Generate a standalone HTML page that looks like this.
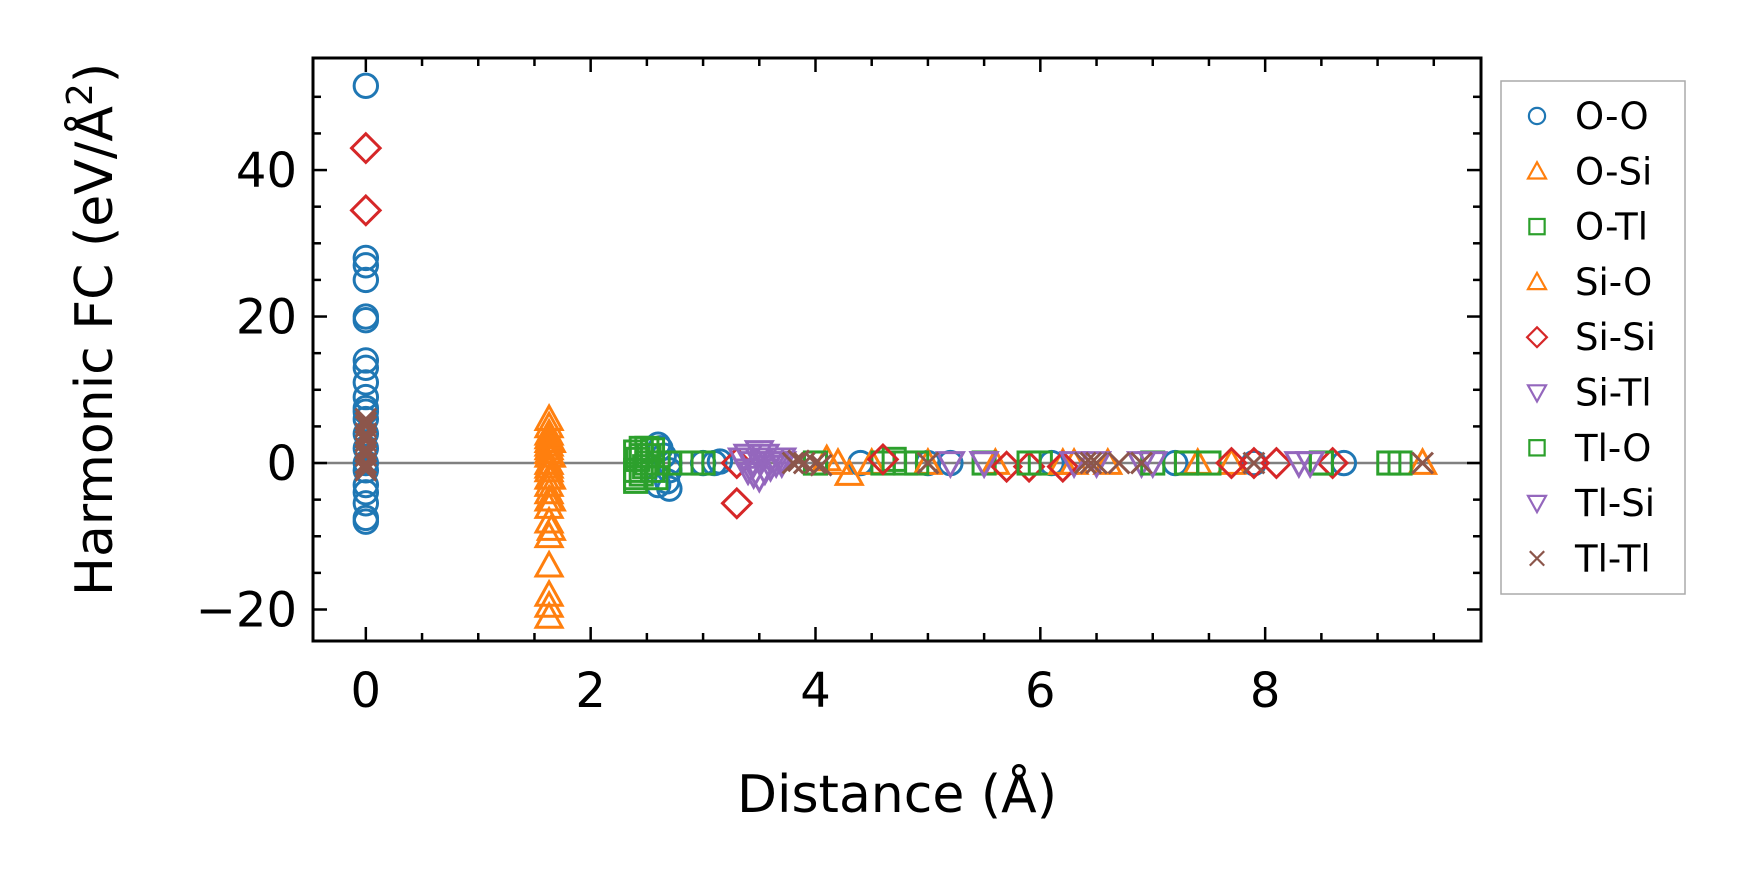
<!DOCTYPE html>
<html><head><meta charset="utf-8"><style>
body{margin:0;background:#fff;}
svg{display:block;font-family:"DejaVu Sans","Liberation Sans",sans-serif;}
</style></head><body>
<svg id="chart" width="1737" height="883" viewBox="0 0 1737 883" xmlns="http://www.w3.org/2000/svg">
<rect width="1737" height="883" fill="#fff"/>
<g id="marks"></g>
<g id="axes"></g>
<g id="legend"></g>
</svg>
<script>
const xTicks=[0,2,4,6,8];
const yTicks=[-20,0,20,40];
const seriesNames=["O-O","O-Si","O-Tl","Si-O","Si-Si","Si-Tl","Tl-O","Tl-Si","Tl-Tl"];
const seriesColors=["#1f77b4","#ff7f0e","#2ca02c","#ff7f0e","#d62728","#9467bd","#2ca02c","#9467bd","#8c564b"];
const seriesMarkers=["o","^","s","^","D","v","s","v","x"];
const ooX=[0,0,0,0,0,0,0,0,0,0,0,0,0,0,0,0,0,0,0,0,0,0,2.6,2.65,2.7,2.7,2.6,2.7,2.62,2.68,3.0,3.1,3.15,5.2,7.2,8.7,7.9,6.1,4.4,5.0];
const ooY=[51.5,28,27,25,20,19.5,14,13,11,9,7.5,7,6,4,2,0,-1,-3,-5.5,-7.5,-8,-4,2.5,1,0,-1,-3,-3.5,2,-2.5,0,0,0.2,0,0,0,0,0,0,0];
const osiX=[1.63,1.63,1.63,1.63,1.63,1.63,1.63,1.63,1.63,1.63,1.63,1.63,1.63,1.63,1.63,1.63,1.63,1.63,1.63,1.63,1.63,1.63,1.63,4.1,4.3,4.5,5.6,6.3,6.6,7.4,7.7,9.4];
const osiY=[6,5,4,3,2.5,2,1,0,-1,-2,-3,-4,-5,-6,-8,-10,-14,-18,-19.5,-21,3.5,1.5,-0.5,0.5,-1.5,0,0,0,0,0,0,0];
const otlX=[2.4,2.45,2.5,2.55,2.4,2.5,2.6,2.45,2.55,2.42,2.48,2.52,2.58,2.4,2.45,2.9,3.0,4.0,4.6,4.7,4.8,5.5,6.0,7.3,7.5,8.5,9.2];
const otlY=[1.5,1,0,-1,-2,2,0,-1.5,1.8,0.5,-0.5,1,-2,-2.5,2,0,0,0,0,0.5,0,0,0,0,0,0,0];
const sioX=[1.65,1.65,1.65,1.65,1.65,4.2,5.0,6.2];
const sioY=[3,1,-2,-5,-9,0,0,0];
const sisiX=[0,0,3.3,3.3,4.6,5.7,5.9,6.2,7.7,7.9,8.1,8.6];
const sisiY=[43,34.5,-5.5,0,0.5,-0.5,-0.5,-0.5,0,0,0,0];
const sitlX=[3.4,3.45,3.5,3.55,3.6,3.65,3.5,3.4,3.45,3.55,3.6,3.7,3.35,5.5,6.3,6.9,8.3];
const sitlY=[1,0,1.5,-1,0.5,0,-2,-1,-1.5,1,-0.5,0.5,0.5,0,0,0,0];
const tloX=[2.4,2.7,4.0,4.9,5.9,7.0,7.3,8.5,9.1];
const tloY=[-1,0,0,0,0,0,0,0,0];
const tlsiX=[3.5,3.6,3.7,5.2,5.5,6.5,7.0,8.4];
const tlsiY=[0.5,-0.5,0,0,0,0,0,0];
const tltlX=[0,0,0,0,0,0,0,0,0,0,0,0,3.8,3.85,3.9,4.0,4.05,5.0,6.4,6.45,6.5,6.7,6.9,7.9,9.4];
const tltlY=[6,5,4,3,2,1,0,-1,5.5,3.5,1.5,-0.5,0,0.3,0,0,-0.3,0,0,0,0,0,0,0,0];
const seriesX=[ooX,osiX,otlX,sioX,sisiX,sitlX,tloX,tlsiX,tltlX];
const seriesY=[ooY,osiY,otlY,sioY,sisiY,sitlY,tloY,tlsiY,tltlY];

const L=313,R=1481,T=58,B=641;
const xMin=-0.47,xMax=9.92,yMin=-24.3,yMax=55.3;
const xs=v=>L+(v-xMin)/(xMax-xMin)*(R-L);
const ys=v=>B-(v-yMin)/(yMax-yMin)*(B-T);
const NS="http://www.w3.org/2000/svg";
function mk(tag,attrs,parent){const e=document.createElementNS(NS,tag);for(const k in attrs)e.setAttribute(k,attrs[k]);parent.appendChild(e);return e;}
function marker(m,cx,cy,c,parent,r,sw){
  let e;
  if(m==="o") e=mk("circle",{cx:cx,cy:cy,r:r*0.9,fill:"none",stroke:c,"stroke-width":sw},parent);
  else if(m==="^") e=mk("polygon",{points:`${cx},${cy-r} ${cx-r},${cy+r*0.8} ${cx+r},${cy+r*0.8}`,fill:"none",stroke:c,"stroke-width":sw},parent);
  else if(m==="v") e=mk("polygon",{points:`${cx},${cy+r} ${cx-r},${cy-r*0.8} ${cx+r},${cy-r*0.8}`,fill:"none",stroke:c,"stroke-width":sw},parent);
  else if(m==="s") e=mk("rect",{x:cx-r*0.85,y:cy-r*0.85,width:r*1.7,height:r*1.7,fill:"none",stroke:c,"stroke-width":sw},parent);
  else if(m==="D") e=mk("polygon",{points:`${cx},${cy-r*1.1} ${cx+r*1.1},${cy} ${cx},${cy+r*1.1} ${cx-r*1.1},${cy}`,fill:"none",stroke:c,"stroke-width":sw},parent);
  else e=mk("path",{d:`M${cx-r*0.8},${cy-r*0.8}L${cx+r*0.8},${cy+r*0.8}M${cx+r*0.8},${cy-r*0.8}L${cx-r*0.8},${cy+r*0.8}`,fill:"none",stroke:c,"stroke-width":sw},parent);
  return e;
}
const marks=document.getElementById("marks");
const axes=document.getElementById("axes");
const leg=document.getElementById("legend");
const zl=mk("line",{x1:L,x2:R,y1:ys(0),y2:ys(0),stroke:"#808080","stroke-width":2.5},marks);


seriesNames.forEach((n,i)=>{
  const g=mk("g",{},marks);
  
  
  seriesX[i].forEach((xv,j)=>{
    const p=marker(seriesMarkers[i],xs(xv),ys(seriesY[i][j]),seriesColors[i],g,13,3);
    
    
  });
});
const fr=mk("rect",{x:L,y:T,width:R-L,height:B-T,fill:"none",stroke:"#000","stroke-width":3},axes);


for(let v=0;v<=9.5;v+=0.5){
  const major=xTicks.includes(v);const len=major?14:8;const x=xs(v);
  mk("line",{x1:x,x2:x,y1:B,y2:B-len,stroke:"#000","stroke-width":2.5},axes);
  mk("line",{x1:x,x2:x,y1:T,y2:T+len,stroke:"#000","stroke-width":2.5},axes);
}
xTicks.forEach(v=>{
  const t=mk("text",{x:xs(v),y:B+66,"text-anchor":"middle","font-size":48},axes);
  t.textContent=String(v);
  
  
});
for(let v=-20;v<=50;v+=5){
  const major=yTicks.includes(v);const len=major?14:8;const y=ys(v);
  mk("line",{x1:L,x2:L+len,y1:y,y2:y,stroke:"#000","stroke-width":2.5},axes);
  mk("line",{x1:R,x2:R-len,y1:y,y2:y,stroke:"#000","stroke-width":2.5},axes);
}
yTicks.forEach(v=>{
  const t=mk("text",{x:L-16,y:ys(v)+17,"text-anchor":"end","font-size":48},axes);
  t.textContent=v<0?"\u2212"+Math.abs(v):String(v);
  
  
});
const xl=mk("text",{x:(L+R)/2,y:812,"text-anchor":"middle","font-size":52},axes);
xl.textContent="Distance (Å)";


const yl=mk("text",{x:0,y:0,"text-anchor":"middle","font-size":52,transform:`translate(112,${(T+B)/2-20}) rotate(-90)`},axes);
yl.innerHTML='Harmonic FC (eV/Å<tspan dy="-20" font-size="36">2</tspan><tspan dy="20">)</tspan>';


const lb=mk("rect",{x:1501,y:81,width:184,height:513,fill:"#fff",stroke:"#aaa","stroke-width":1.5},leg);


seriesNames.forEach((n,i)=>{
  const y=116+i*55.3;
  const g=mk("g",{},leg);
  
  
  marker(seriesMarkers[i],1537,y,seriesColors[i],g,9,2.2);
  const t=mk("text",{x:1575,y:y+13,"font-size":37},g);
  t.textContent=n;
});
</script>
</body></html>
